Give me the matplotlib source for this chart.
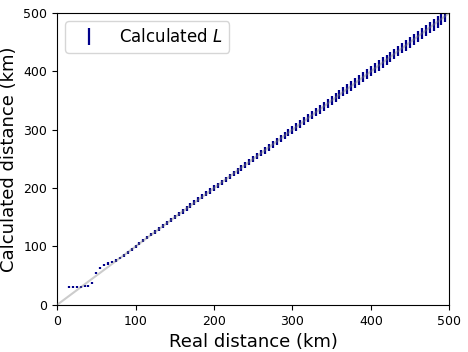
import matplotlib
matplotlib.use("Agg")
import matplotlib.pyplot as plt

# real distance (km) of each sample
real_km = [15, 20, 25, 30, 35, 40, 45, 50, 55, 60, 65, 70, 75, 80, 85,
           90, 95, 100, 105, 110, 115, 120, 125, 130, 135, 140, 145, 150,
           155, 160, 165, 170, 175, 180, 185, 190, 195, 200, 205, 210, 215,
           220, 225, 230, 235, 240, 245, 250, 255, 260, 265, 270, 275, 280,
           285, 290, 295, 300, 305, 310, 315, 320, 325, 330, 335, 340, 345,
           350, 355, 360, 365, 370, 375, 380, 385, 390, 395, 400, 405, 410,
           415, 420, 425, 430, 435, 440, 445, 450, 455, 460, 465, 470, 475,
           480, 485, 490, 495]

# calculated distance L (km)
calc_km = [31, 31, 31, 31, 32, 33, 37, 55, 63, 68, 71, 73, 76, 80, 85,
           90, 95, 100, 105, 110, 115, 120, 125, 130, 135, 140, 145, 150,
           155, 160, 165, 170, 175, 180, 185, 190, 195, 200, 205, 210, 215,
           220, 225, 230, 235, 240, 245, 250, 255, 260, 265, 270, 275, 280,
           285, 290, 295, 300, 305, 310, 315, 320, 325, 330, 335, 340, 345,
           350, 355, 360, 365, 370, 375, 380, 385, 390, 395, 400, 405, 410,
           415, 420, 425, 430, 435, 440, 445, 450, 455, 460, 465, 470, 475,
           480, 485, 490, 495]

# uncertainty of L (km)
err_km = [1.8, 1.8, 1.8, 1.8, 1.8, 1.8, 1.8, 1.9, 1.9, 2.0, 2.0, 2.1, 2.1, 2.2, 2.2,
          2.3, 2.4, 2.5, 2.6, 2.7, 2.8, 2.9, 3.0, 3.1, 3.2, 3.3, 3.4, 3.5,
          3.6, 3.7, 3.8, 3.9, 4.0, 4.1, 4.2, 4.3, 4.4, 4.5, 4.6, 4.7, 4.8,
          4.9, 5.0, 5.1, 5.2, 5.3, 5.4, 5.5, 5.6, 5.7, 5.8, 5.9, 6.0, 6.1,
          6.2, 6.3, 6.4, 6.5, 6.6, 6.7, 6.8, 6.9, 7.0, 7.1, 7.2, 7.3, 7.4,
          7.5, 7.6, 7.7, 7.8, 7.9, 8.0, 8.1, 8.2, 8.3, 8.4, 8.5, 8.6, 8.7,
          8.8, 8.9, 9.0, 9.1, 9.2, 9.3, 9.4, 9.5, 9.6, 9.7, 9.8, 9.9, 10.0,
          10.1, 10.2, 10.3, 10.4]

LIMIT = 500

fig, ax = plt.subplots(figsize=(4.68, 3.52), dpi=100)
fig.subplots_adjust(left=0.122, right=0.960, bottom=0.134, top=0.963)

ax.errorbar(real_km, calc_km, yerr=err_km, fmt="none", ecolor="darkblue",
            elinewidth=1.6, label="Calculated $L$")
# reference line y = x
ax.plot([0, LIMIT], [0, LIMIT], color="gray", alpha=0.4, lw=1.5, zorder=3)

ax.set_xlim(0, LIMIT)
ax.set_ylim(0, LIMIT)
ax.set_xlabel("Real distance (km)", fontsize=13)
ax.set_ylabel("Calculated distance (km)", fontsize=13)
ax.tick_params(labelsize=9)
ax.legend(loc="upper left", fontsize=12)

fig.savefig("out.png", dpi=100)
